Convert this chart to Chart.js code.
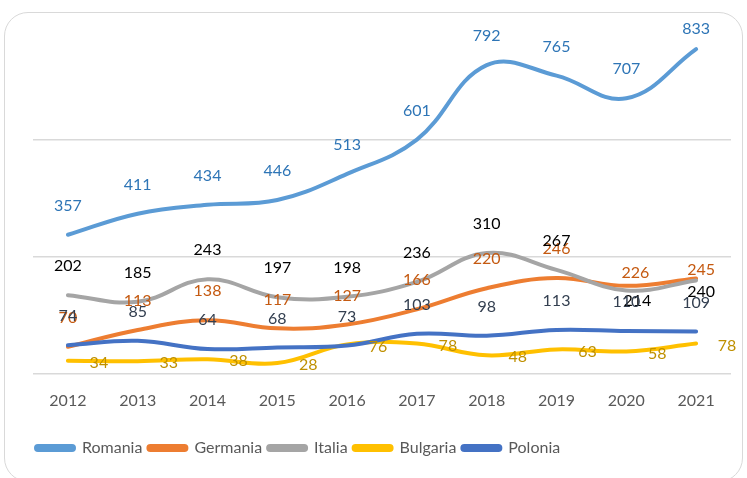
<!DOCTYPE html>
<html>
<head>
<meta charset="utf-8">
<script src="https://cdn.jsdelivr.net/npm/chart.js@4/dist/chart.umd.min.js"></script>
<style>
  html,body{margin:0;padding:0;background:#fff;}
  #wrap{position:relative;width:747px;height:478px;}
  #frame{position:absolute;left:4px;top:12px;width:739px;height:470px;border:1.5px solid #d9d9d9;border-radius:24px;box-sizing:border-box;}
  canvas{position:absolute;left:0;top:0;}
</style>
</head>
<body>
<div id="wrap">
  <div id="frame"></div>
  <canvas id="c" width="747" height="478"></canvas>
</div>
<script>
const years = ['2012','2013','2014','2015','2016','2017','2018','2019','2020','2021'];
const romania  = [357, 411, 434, 446, 513, 601, 792, 765, 707, 833];
const germania = [70, 113, 138, 117, 127, 166, 220, 246, 226, 245];
const italia   = [202, 185, 243, 197, 198, 236, 310, 267, 214, 240];
const bulgaria = [34, 33, 38, 28, 76, 78, 48, 63, 58, 78];
const polonia  = [74, 85, 64, 68, 73, 103, 98, 113, 110, 109];
const seriesNames = ['Romania','Germania','Italia','Bulgaria','Polonia'];

const FONT = 'Lato, "Open Sans", sans-serif';

const labelPlugin = {
  id: 'valueLabels',
  afterDatasetsDraw(chart) {
    const ctx = chart.ctx;
    ctx.save();
    ctx.font = '16px ' + FONT;
    ctx.textAlign = 'center';
    ctx.textBaseline = 'middle';
    chart.data.datasets.forEach((ds, i) => {
      const meta = chart.getDatasetMeta(i);
      if (meta.hidden) return;
      ctx.fillStyle = ds.labelColor;
      meta.data.forEach((pt, j) => {
        const off = (ds.labelOffsets && ds.labelOffsets[j]) || [0, 0];
        let x, y;
        if (ds.labelPos === 'right') {
          x = pt.x + 31 + off[0];
          y = pt.y + 2 + off[1];
        } else {
          x = pt.x + off[0];
          y = Math.max(29, pt.y - 29 + off[1]);
        }
        ctx.fillText(String(ds.data[j]), x, y);
      });
    });
    ctx.restore();
  }
};

function mk(label, data, color, labelColor, order, extra) {
  return Object.assign({
    label, data,
    borderColor: color,
    backgroundColor: color,
    borderWidth: 4,
    tension: 0.4,
    pointRadius: 0,
    pointHoverRadius: 0,
    fill: false,
    borderCapStyle: 'round',
    labelColor,
    order
  }, extra || {});
}

new Chart(document.getElementById('c'), {
  type: 'line',
  data: {
    labels: years,
    datasets: [
      mk(seriesNames[0], romania,  '#5b9bd5', '#2e75b6', 4),
      mk(seriesNames[1], germania, '#ed7d31', '#c55a11', 3, {labelOffsets: {8: [9, 16], 9: [5, 20]}}),
      mk(seriesNames[2], italia,   '#a5a5a5', '#000000', 2, {labelOffsets: {8: [11, 39], 9: [5, 40]}}),
      mk(seriesNames[3], bulgaria, '#ffc000', '#bf9000', 1, {labelPos: 'right'}),
      mk(seriesNames[4], polonia,  '#4472c4', '#333f50', 0)
    ]
  },
  options: {
    responsive: false,
    animation: false,
    devicePixelRatio: 1,
    layout: { padding: { left: 30, right: 16, top: 23, bottom: 12 } },
    plugins: {
      tooltip: { enabled: false },
      legend: {
        position: 'bottom',
        align: 'start',
        labels: {
          boxWidth: 38,
          boxHeight: 4,
          padding: 6,
          color: '#595959',
          font: { family: FONT, size: 16 },
          useBorderRadius: true,
          borderRadius: 2,
          sort: (a, b) => a.datasetIndex - b.datasetIndex
        }
      }
    },
    scales: {
      x: {
        offset: true,
        grid: { display: false, drawTicks: false },
        border: { display: false },
        ticks: { color: '#595959', font: { family: FONT, size: 16 }, padding: 17, maxRotation: 0 },
        afterFit(scale) { scale.height = 60; }
      },
      y: {
        min: 0, max: 900,
        grid: {
          drawTicks: false,
          color: (c) => (c.tick && c.tick.value === 900) ? 'rgba(0,0,0,0)' : '#d9d9d9',
          lineWidth: 1.5
        },
        border: { display: false },
        ticks: { display: false, stepSize: 300 },
        afterFit(scale) { scale.width = 3; }
      }
    }
  },
  plugins: [labelPlugin]
});
</script>
</body>
</html>
